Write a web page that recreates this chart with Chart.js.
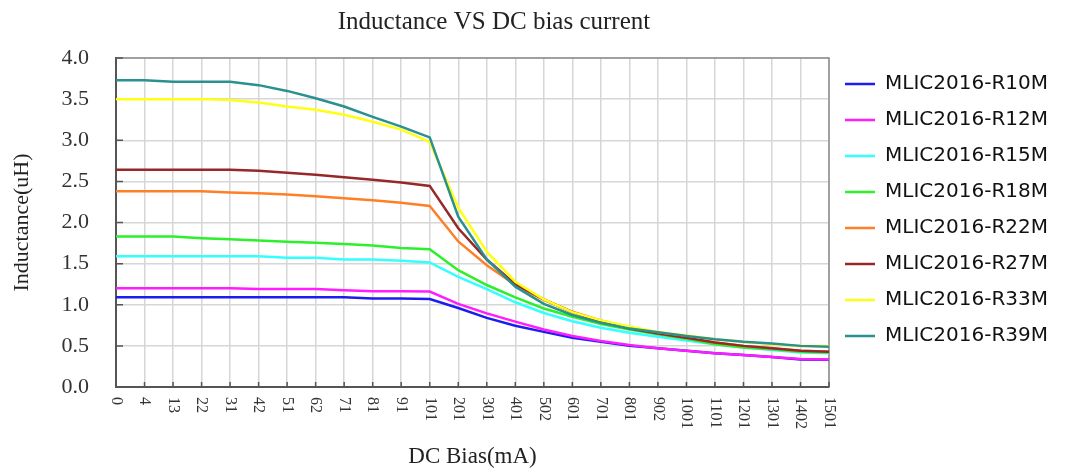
<!DOCTYPE html>
<html>
<head>
<meta charset="utf-8">
<script src="https://cdn.jsdelivr.net/npm/chart.js@4.4.1/dist/chart.umd.min.js"></script>
<style>
  body { margin: 0; background: #fff; }
  #chart { display: block; }
</style>
</head>
<body>
<canvas id="chart" width="1065" height="474"></canvas>
<script>
const currents = ['0', '4', '13', '22', '31', '42', '51', '62', '71', '81', '91', '101', '201',
  '301', '401', '502', '601', '701', '801', '902', '1001', '1101', '1201', '1301', '1402', '1501'];

const r10m = [1.09, 1.09, 1.09, 1.09, 1.09, 1.09, 1.09, 1.09, 1.09, 1.075, 1.075, 1.07, 0.96,
  0.84, 0.745, 0.67, 0.60, 0.55, 0.50, 0.47, 0.44, 0.41, 0.39, 0.365, 0.335, 0.33];
const r12m = [1.20, 1.20, 1.20, 1.20, 1.20, 1.19, 1.19, 1.19, 1.175, 1.165, 1.165, 1.16, 1.01,
  0.895, 0.795, 0.70, 0.62, 0.56, 0.51, 0.47, 0.44, 0.41, 0.39, 0.365, 0.34, 0.335];
const r15m = [1.59, 1.59, 1.59, 1.59, 1.59, 1.59, 1.57, 1.57, 1.55, 1.55, 1.535, 1.515, 1.34,
  1.19, 1.03, 0.90, 0.80, 0.72, 0.66, 0.61, 0.565, 0.52, 0.48, 0.45, 0.42, 0.41];
const r18m = [1.83, 1.83, 1.83, 1.81, 1.795, 1.78, 1.765, 1.755, 1.74, 1.72, 1.69, 1.675, 1.42,
  1.24, 1.09, 0.955, 0.855, 0.765, 0.70, 0.64, 0.585, 0.52, 0.48, 0.46, 0.43, 0.42];
const r22m = [2.38, 2.38, 2.38, 2.38, 2.365, 2.355, 2.34, 2.32, 2.295, 2.27, 2.24, 2.20, 1.77,
  1.48, 1.24, 1.06, 0.915, 0.81, 0.72, 0.65, 0.60, 0.54, 0.50, 0.47, 0.44, 0.43];
const r27m = [2.64, 2.64, 2.64, 2.64, 2.64, 2.63, 2.605, 2.58, 2.55, 2.52, 2.485, 2.445, 1.93,
  1.55, 1.25, 1.065, 0.91, 0.795, 0.71, 0.65, 0.60, 0.54, 0.50, 0.47, 0.44, 0.43];
const r33m = [3.50, 3.50, 3.50, 3.50, 3.49, 3.46, 3.41, 3.37, 3.31, 3.225, 3.13, 2.98, 2.18,
  1.645, 1.28, 1.065, 0.91, 0.81, 0.735, 0.67, 0.625, 0.58, 0.55, 0.52, 0.50, 0.50];
const r39m = [3.73, 3.73, 3.71, 3.71, 3.71, 3.67, 3.60, 3.51, 3.41, 3.285, 3.165, 3.035, 2.07,
  1.55, 1.22, 1.01, 0.875, 0.78, 0.71, 0.665, 0.62, 0.58, 0.55, 0.53, 0.50, 0.49];

const seriesNames = ['MLIC2016-R10M', 'MLIC2016-R12M', 'MLIC2016-R15M', 'MLIC2016-R18M',
  'MLIC2016-R22M', 'MLIC2016-R27M', 'MLIC2016-R33M', 'MLIC2016-R39M'];
const seriesValues = [r10m, r12m, r15m, r18m, r22m, r27m, r33m, r39m];
const seriesColors = ['#1c1cf0', '#ff1cff', '#33ffff', '#2cf02c', '#ff7f27', '#962828', '#ffff14', '#2a9090'];

const serif = '"Liberation Serif", "Times New Roman", serif';

// the title sits off-centre in the original, so the layout is shifted left a bit
const padLeft = -70;
const padRight = 7;

// frame, little inner tick marks and the x labels that read top to bottom
const axisDecor = {
  id: 'axisDecor',
  beforeDatasetsDraw(chart) {
    const { ctx, chartArea: { left, top, right, bottom }, scales: { x, y } } = chart;
    ctx.save();
    ctx.strokeStyle = '#8c8c8c';
    ctx.lineWidth = 1.5;
    ctx.beginPath();
    ctx.moveTo(left, top);
    ctx.lineTo(right, top);
    ctx.lineTo(right, bottom);
    ctx.stroke();

    ctx.strokeStyle = '#555';
    ctx.beginPath();
    x.ticks.forEach((t, i) => {
      const px = x.getPixelForTick(i);
      ctx.moveTo(px, bottom);
      ctx.lineTo(px, bottom - 5);
    });
    y.ticks.forEach((t, i) => {
      const py = y.getPixelForTick(i);
      ctx.moveTo(left, py);
      ctx.lineTo(left + 7, py);
    });
    ctx.stroke();
    ctx.restore();
  },
  afterDraw(chart) {
    const { ctx, chartArea: { bottom }, scales: { x } } = chart;
    ctx.save();
    ctx.font = '16px ' + serif;
    ctx.fillStyle = '#333';
    ctx.textAlign = 'left';
    ctx.textBaseline = 'middle';
    x.ticks.forEach((t, i) => {
      ctx.save();
      ctx.translate(x.getPixelForTick(i), bottom + 10);
      ctx.rotate(Math.PI / 2);
      ctx.fillText(x.getLabelForValue(t.value), 0, 0);
      ctx.restore();
    });
    ctx.restore();
  }
};

new Chart(document.getElementById('chart'), {
  type: 'line',
  data: {
    labels: currents,
    datasets: seriesNames.map((name, i) => ({
      label: name,
      data: seriesValues[i],
      borderColor: seriesColors[i],
      backgroundColor: seriesColors[i],
      borderWidth: 2.5,
      pointRadius: 0,
      tension: 0,
      order: seriesNames.length - i
    }))
  },
  options: {
    responsive: false,
    animation: false,
    layout: { padding: { left: padLeft, right: padRight, top: 0, bottom: 0 } },
    plugins: {
      title: {
        display: true,
        text: 'Inductance VS DC bias current',
        color: '#222',
        font: { family: serif, size: 25, weight: 'normal' },
        padding: { top: 7, bottom: 21 }
      },
      legend: {
        position: 'right',
        align: 'start',
        fullSize: false,
        labels: {
          usePointStyle: true,
          pointStyle: 'line',
          pointStyleWidth: 30,
          padding: 16,
          color: '#111',
          font: { family: '"DejaVu Sans", sans-serif', size: 20 },
          sort: (a, b) => a.datasetIndex - b.datasetIndex
        }
      },
      tooltip: { enabled: false }
    },
    scales: {
      x: {
        offset: false,
        grid: { color: '#d6d6d6', lineWidth: 1.5, drawTicks: false },
        border: { color: '#555', width: 2 },
        ticks: { display: false, autoSkip: false },
        title: {
          display: true,
          text: 'DC Bias(mA)',
          color: '#222',
          font: { family: serif, size: 23 },
          padding: { top: 4, bottom: 3 }
        },
        afterFit(scale) { scale.height = 87; }
      },
      y: {
        min: 0,
        max: 4,
        ticks: {
          stepSize: 0.5,
          padding: 27,
          color: '#333',
          font: { family: serif, size: 22 },
          callback: v => v.toFixed(1)
        },
        grid: { color: '#d6d6d6', lineWidth: 1.5, drawTicks: false },
        border: { color: '#555', width: 2 },
        title: {
          display: true,
          text: 'Inductance(uH)',
          color: '#222',
          font: { family: serif, size: 22 },
          padding: { top: 9 - padLeft, bottom: 0 }
        },
        afterFit(scale) { scale.width = 116 - padLeft; }
      }
    }
  },
  plugins: [axisDecor]
});
</script>
</body>
</html>
